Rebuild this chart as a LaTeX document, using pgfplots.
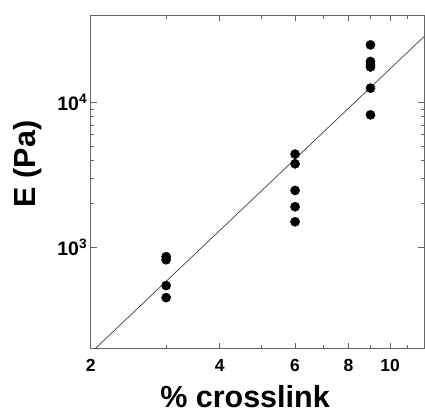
\documentclass[border=0pt]{standalone}
\usepackage{fontspec}
\setmainfont{Liberation Sans}
\usepackage{pgfplots}
\pgfplotsset{compat=1.18}
\begin{document}
\begin{tikzpicture}
\begin{axis}[
  name=ax,
  scale only axis,
  width=333.3pt, height=333.4pt,
  xmode=log, ymode=log,
  xmin=2, xmax=12, ymin=200, ymax=40000,
  axis line style={black!60, line width=0.8pt},
  tick style={black!60, line width=0.7pt},
  tick align=inside,
  major tick length=6pt, minor tick length=3.5pt,
  xtick={2,4,6,8,10},
  xticklabels={2,4,6,8,10},
  minor xtick={3,5,7,9,11},
  ytick={1000,10000},
  yticklabels={10\textsuperscript{3},10\textsuperscript{4}},
  log basis x=10,
  xticklabel style={font=\fontsize{17.5}{19}\selectfont\bfseries, yshift=-7pt},
  yticklabel style={font=\fontsize{19.5}{21}\selectfont\bfseries},
  xlabel={\% crosslink},
  ylabel={E (Pa)},
  xlabel style={font=\fontsize{30.5}{34}\selectfont\bfseries, at={(axis description cs:0.463,-0.176)}, anchor=base, inner sep=0pt},
  ylabel style={font=\fontsize{30.5}{34}\selectfont\bfseries, at={(axis description cs:-0.167,0.554)}, anchor=base, rotate=0, inner sep=0pt},
  clip=true,
]
\addplot[black!75, line width=0.7pt] coordinates {(2,187) (12,28500)};
\addplot[only marks, mark=*, mark size=4.6pt, black] coordinates {
(3,863)(3,822)(3,545)(3,450)
(6,4406)(6,3777)(6,2472)(6,1909)(6,1503)
(9,25000)(9,19200)(9,18200)(9,17600)(9,12570)(9,8220)};
\end{axis}
\pgfresetboundingbox
\path ([shift={(-90.7pt,-65.3pt)}]ax.south west) rectangle ([shift={(1pt,15.3pt)}]ax.north east);
\end{tikzpicture}
\end{document}
